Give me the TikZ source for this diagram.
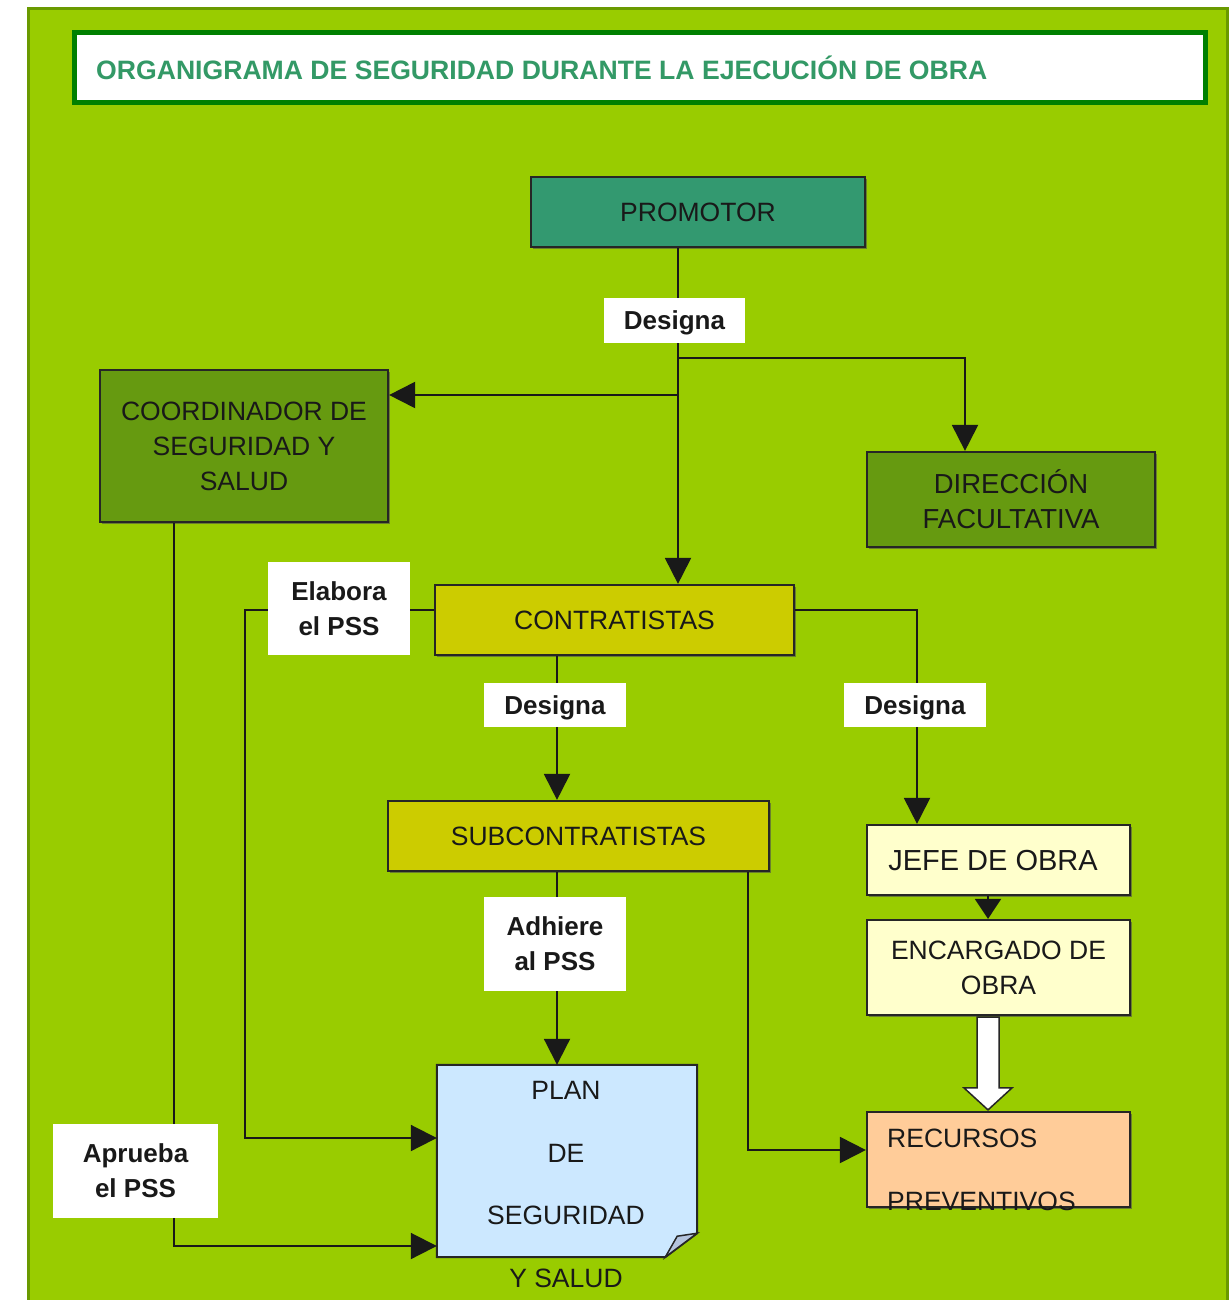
\documentclass[tikz,border=0pt]{standalone}
\usepackage{fontspec}
\setmainfont{Liberation Sans}
\usetikzlibrary{arrows.meta,calc,shadows}
\definecolor{panel}{HTML}{99CC00}
\definecolor{panelborder}{HTML}{6A9A00}
\definecolor{titlegreen}{HTML}{008000}
\definecolor{titletext}{HTML}{339966}
\definecolor{promfill}{HTML}{339970}
\definecolor{olivefill}{HTML}{669A10}
\definecolor{yellowfill}{HTML}{CCCC00}
\definecolor{paleyellow}{HTML}{FFFFCC}
\definecolor{peach}{HTML}{FFCC99}
\definecolor{paleblue}{HTML}{CCE8FF}
\definecolor{foldblue}{HTML}{B4C4DE}
\begin{document}
\begin{tikzpicture}[x=1pt,y=-1pt,
  box/.style={draw=black!85, line width=2.2pt, align=center, inner sep=0pt,
    font=\fontsize{26.5}{35}\selectfont, text=black!90,
    drop shadow={shadow xshift=2pt, shadow yshift=-2pt, fill=black!70, opacity=0.6}},
  lbl/.style={fill=white, inner sep=0pt, align=center,
    font=\bfseries\fontsize{26}{35}\selectfont, text=black!90},
  ln/.style={line width=2pt, draw=black!90},
  arr/.style={ln, -{Triangle[length=26pt,width=26pt]}},
  arrs/.style={ln, -{Triangle[length=20pt,width=26pt]}},
  txt/.style={inner sep=0pt, font=\fontsize{26.5}{62.5}\selectfont, text=black!90}
]
\useasboundingbox (0,0) rectangle (1230,1300);
\fill[white] (0,0) rectangle (1230,1300);
% panel
\filldraw[fill=panel, draw=panelborder, line width=3pt] (28,9) rectangle (1227,1320);
% title
\draw[fill=white, draw=titlegreen, line width=5pt] (74,33) rectangle (1205,103);
\node[anchor=west, inner sep=0pt, text=titletext,
  font=\bfseries\fontsize{26.6}{30}\selectfont] (title) at (96,68)
  {ORGANIGRAMA DE SEGURIDAD DURANTE LA EJECUCIÓN DE OBRA};

% boxes
\node[box, fill=promfill, minimum width=334pt, minimum height=70pt] (prom) at (698,212) {PROMOTOR};
\node[box, fill=olivefill, minimum width=288pt, minimum height=152pt] (coord) at (244,446)
  {\raisebox{-2pt}{\parbox{280pt}{\centering COORDINADOR DE\\SEGURIDAD Y\\SALUD}}};
\node[box, fill=olivefill, minimum width=288pt, minimum height=95pt,
  font=\fontsize{27.5}{35}\selectfont] (dir) at (1011,499.5)
  {DIRECCIÓN\\FACULTATIVA};
\node[box, fill=yellowfill, minimum width=359pt, minimum height=70pt] (contr) at (614.5,620) {CONTRATISTAS};
\node[box, fill=yellowfill, minimum width=381pt, minimum height=70pt] (sub) at (578.5,836) {SUBCONTRATISTAS};
\node[box, fill=paleyellow, minimum width=263pt, minimum height=70pt] (jefe) at (998.5,860) {};
\node[inner sep=0pt, font=\fontsize{29}{35}\selectfont, text=black!90] (jefetext) at (993,861) {JEFE DE OBRA};
\node[box, fill=paleyellow, minimum width=263pt, minimum height=95pt] (enc) at (998.5,967.5) {ENCARGADO DE\\OBRA};
\node[box, fill=peach, minimum width=263pt, minimum height=95pt] (rec) at (998.5,1159.5) {};
\node[txt, anchor=west, align=left] (rectext) at (887,1170) {RECURSOS\\PREVENTIVOS};

% plan document shape
\node[inner sep=0pt, minimum width=260pt, minimum height=192pt] (plan) at (567,1161) {};
\filldraw[fill=paleblue, draw=black!85, line width=2pt]
  (plan.north west) -- (plan.north east) -- ($(plan.south east)+(0,-24)$)
  -- ($(plan.south east)+(-32,0)$) -- (plan.south west) -- cycle;
\filldraw[fill=foldblue, draw=black!85, line width=1.5pt]
  ($(plan.south east)+(-32,0)$) -- ($(plan.south east)+(0,-24)$)
  -- ($(plan.south east)+(-20,-21)$) -- cycle;
\node[txt, align=center] (plantext) at (566,1184.5) {PLAN\\DE\\SEGURIDAD\\Y SALUD};

% junction coordinates
\coordinate (j1) at (678,358);
\coordinate (j2) at (678,395);
\coordinate (k1) at (965,358);
\coordinate (a1) at (174,1246);
\coordinate (e1) at (245,610);
\coordinate (e2) at (245,1138);
\coordinate (f1) at (917,610);
\coordinate (g1) at (557,700);
\coordinate (h1) at (748,1150);
\coordinate (m1) at (988,900);

% connectors
\draw[arr] (prom.south -| j1) -- (contr.north -| j1);
\draw[arr] (j1) -- (k1) -- (dir.north -| k1);
\draw[arr] (j2) -- (coord.east |- j2);
\draw[arr] (coord.south -| a1) -- (a1) -- (plan.west |- a1);
\draw[arr] (contr.west |- e1) -- (e1) -- (e2) -- (plan.west |- e2);
\draw[arr] (contr.east |- f1) -- (f1) -- (jefe.north -| f1);
\draw[arr] (contr.south -| g1) -- (sub.north -| g1);
\draw[arr] (sub.south -| g1) -- (plan.north -| g1);
\draw[arr] (sub.south -| h1) -- (h1) -- (rec.west |- h1);
\draw[arrs] (jefe.south -| m1) -- (enc.north -| m1);
% block arrow
\coordinate (bs) at (enc.south -| m1);
\coordinate (bt) at (rec.north -| m1);
\filldraw[fill=white, draw=black!85, line width=1.5pt]
  ($(bs)+(-11,1)$) -- ($(bs)+(11,1)$) -- ($(bt)+(11,-23)$) -- ($(bt)+(24,-23)$)
  -- ($(bt)+(0,-1)$) -- ($(bt)+(-24,-23)$) -- ($(bt)+(-11,-23)$) -- cycle;

% labels
\node[lbl, minimum width=141pt, minimum height=45pt, text depth=0pt] (d1) at (674.5,320.5) {Designa};
\node[lbl, minimum width=142pt, minimum height=93pt] (elab) at (339,608.5) {Elabora\\el PSS};
\node[lbl, minimum width=142pt, minimum height=44pt, text depth=0pt] (d2) at (555,705) {Designa};
\node[lbl, minimum width=142pt, minimum height=44pt, text depth=0pt] (d3) at (915,705) {Designa};
\node[lbl, minimum width=142pt, minimum height=94pt] (adh) at (555,944) {Adhiere\\al PSS};
\node[lbl, minimum width=165pt, minimum height=94pt] (apr) at (135.5,1171) {Aprueba\\el PSS};
\end{tikzpicture}
\end{document}
